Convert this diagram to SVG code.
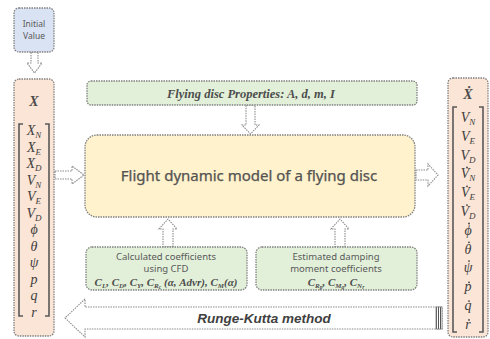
<svg xmlns="http://www.w3.org/2000/svg" width="490" height="339" viewBox="0 0 490 339">
<defs>
<style>
.bx{stroke:#7f7f7f;stroke-width:1.3;stroke-dasharray:1.5 1}
.ar{fill:#fff;stroke:#8c8c8c;stroke-width:1.1;stroke-dasharray:1.5 1}
.sans{font-family:"Noto Sans","Open Sans",sans-serif;fill:#595959}
.m{font-family:"Liberation Serif","DejaVu Serif",serif;font-style:italic;font-size:14px;fill:#404040;text-anchor:middle}
.f{font-family:"Liberation Serif","DejaVu Serif",serif;font-style:italic;font-weight:bold;fill:#4d4d4d}
.br{fill:none;stroke:#595959;stroke-width:1.6}
.sub{font-size:9px}
.d{fill:#404040}
</style>
<pattern id="hatch" width="2" height="2" patternUnits="userSpaceOnUse">
<rect width="2" height="2" fill="#fff"/>
<rect width="1" height="2" fill="#555"/>
</pattern>
</defs>
<rect width="490" height="339" fill="#fff"/>

<g id="connectors">
<path class="ar" d="M31,52 L38,52 L38,63 L42,63 L34.5,73 L27,63 L31,63 Z"/>
<path class="ar" d="M246,105 L255,105 L255,125 L259,125 L250.5,134 L242,125 L246,125 Z"/>
<path class="ar" d="M163,247 L173,247 L173,229 L177,229 L168,219 L159,229 L163,229 Z"/>
<path class="ar" d="M335,247 L345,247 L345,229 L349,229 L340,219 L331,229 L335,229 Z"/>
<path class="ar" d="M55,171 L72,171 L72,166 L84,175 L72,184 L72,179 L55,179 Z"/>
<path class="ar" d="M416,170 L428,170 L428,164 L438,175 L428,186 L428,180 L416,180 Z"/>
<path class="ar" d="M442,307 L85,307 L85,299 L65,318 L85,337 L85,329 L442,329 Z"/>
<rect x="436" y="307" width="6" height="22" fill="url(#hatch)" stroke="#7f7f7f" stroke-width="0.8"/>
<text x="264" y="322.5" font-family="Liberation Sans,Arial,sans-serif" font-size="13.5" font-weight="bold" font-style="italic" fill="#404040" text-anchor="middle">Runge-Kutta method</text>
</g>

<g id="initial-value">
<rect class="bx" x="14" y="8" width="40" height="44" rx="5" fill="#dae3f3"/>
<text class="sans" x="34" y="27" font-size="8.5" text-anchor="middle" fill="#7f7f7f">Initial</text>
<text class="sans" x="34" y="39" font-size="8.5" text-anchor="middle" fill="#7f7f7f">Value</text>
</g>

<g id="state-x">
<rect class="bx" x="14" y="79" width="40" height="257" rx="5" fill="#fbe5d6"/>
<text class="f" x="34" y="106" font-size="14" text-anchor="middle">X</text>
<path class="br" d="M23,124 L19,124 L19,316 L23,316 M45,124 L49,124 L49,316 L45,316"/>
<text class="m" x="34" y="135">X<tspan class="sub" dy="3">N</tspan></text>
<text class="m" x="34" y="151.5">X<tspan class="sub" dy="3">E</tspan></text>
<text class="m" x="34" y="168">X<tspan class="sub" dy="3">D</tspan></text>
<text class="m" x="34" y="184.5">V<tspan class="sub" dy="3">N</tspan></text>
<text class="m" x="34" y="201">V<tspan class="sub" dy="3">E</tspan></text>
<text class="m" x="34" y="217.5">V<tspan class="sub" dy="3">D</tspan></text>
<text class="m" x="34" y="234">ϕ</text>
<text class="m" x="34" y="250.5">θ</text>
<text class="m" x="34" y="267">ψ</text>
<text class="m" x="34" y="283.5">p</text>
<text class="m" x="34" y="300">q</text>
<text class="m" x="34" y="316.5">r</text>
</g>

<g id="state-xdot">
<rect class="bx" x="448" y="78" width="40" height="259" rx="5" fill="#fbe5d6"/>
<text class="f" x="468" y="99" font-size="14" text-anchor="middle">Ẋ</text>
<path class="br" d="M457,107 L453,107 L453,332 L457,332 M479,107 L483,107 L483,332 L479,332"/>
<text class="m" x="468" y="122">V<tspan class="sub" dy="3">N</tspan></text>
<text class="m" x="468" y="140.8">V<tspan class="sub" dy="3">E</tspan></text>
<text class="m" x="468" y="159.6">V<tspan class="sub" dy="3">D</tspan></text>
<text class="m" x="468" y="178.4">V<tspan class="sub" dy="3">N</tspan></text>
<text class="m" x="468" y="197.2">V<tspan class="sub" dy="3">E</tspan></text>
<text class="m" x="468" y="216">V<tspan class="sub" dy="3">D</tspan></text>
<text class="m" x="468" y="234.8">ϕ</text>
<text class="m" x="468" y="253.6">θ</text>
<text class="m" x="468" y="272.4">ψ</text>
<text class="m" x="468" y="291.2">p</text>
<text class="m" x="468" y="310">q</text>
<text class="m" x="468" y="328.8">r</text>
<circle class="d" cx="467" cy="167.5" r="0.9"/>
<circle class="d" cx="467" cy="186.3" r="0.9"/>
<circle class="d" cx="467" cy="205.1" r="0.9"/>
<circle class="d" cx="469" cy="223.5" r="0.9"/>
<circle class="d" cx="469" cy="242.3" r="0.9"/>
<circle class="d" cx="469" cy="261.1" r="0.9"/>
<circle class="d" cx="469" cy="282.3" r="0.9"/>
<circle class="d" cx="469" cy="301.1" r="0.9"/>
<circle class="d" cx="469" cy="319.9" r="0.9"/>
</g>

<g id="properties">
<rect class="bx" x="87" y="81" width="330" height="24" rx="4" fill="#e2f0d9"/>
<text class="f" x="251" y="98" font-size="12.5" text-anchor="middle">Flying disc Properties:  A, d, m, I</text>
</g>

<g id="model">
<rect class="bx" x="85" y="135" width="330" height="82" rx="12" fill="#fff2cc"/>
<text class="sans" x="249" y="180.5" font-size="15" text-anchor="middle" fill="#404040" stroke="#404040" stroke-width="0.25">Flight dynamic model of a flying disc</text>
</g>

<g id="cfd">
<rect class="bx" x="86" y="247" width="161" height="43" rx="6" fill="#e2f0d9"/>
<text class="sans" x="166" y="260" font-size="9.5" text-anchor="middle">Calculated coefficients</text>
<text class="sans" x="166" y="272" font-size="9.5" text-anchor="middle">using CFD</text>
<text class="f" x="166" y="286" font-size="11" text-anchor="middle">C<tspan font-size="7" dy="2">L</tspan><tspan dy="-2">, C</tspan><tspan font-size="7" dy="2">D</tspan><tspan dy="-2">, C</tspan><tspan font-size="7" dy="2">Y</tspan><tspan dy="-2">, C</tspan><tspan font-size="7" dy="2">R</tspan><tspan font-size="5.5" dy="1">c</tspan><tspan dy="-3"> (α, Advr), C</tspan><tspan font-size="7" dy="2">M</tspan><tspan dy="-2">(α)</tspan></text>
</g>

<g id="damping">
<rect class="bx" x="256" y="247" width="161" height="43" rx="6" fill="#e2f0d9"/>
<text class="sans" x="336" y="260" font-size="9.5" text-anchor="middle">Estimated damping</text>
<text class="sans" x="336" y="272" font-size="9.5" text-anchor="middle">moment coefficients</text>
<text class="f" x="336" y="286" font-size="11" text-anchor="middle">C<tspan font-size="7" dy="2">R</tspan><tspan font-size="5.5" dy="1">p</tspan><tspan dy="-3">,  C</tspan><tspan font-size="7" dy="2">M</tspan><tspan font-size="5.5" dy="1">q</tspan><tspan dy="-3">,  C</tspan><tspan font-size="7" dy="2">N</tspan><tspan font-size="5.5" dy="1">r</tspan></text>
</g>
</svg>
